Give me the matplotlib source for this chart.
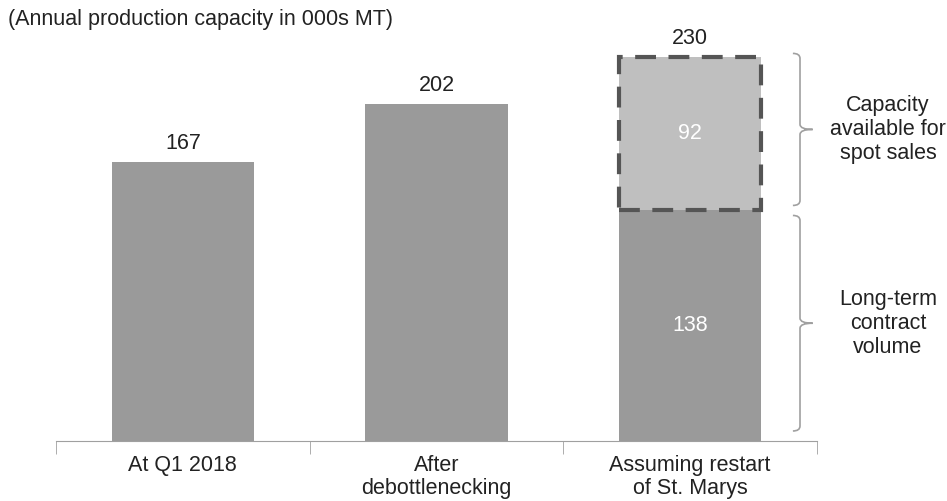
import matplotlib.pyplot as plt
from matplotlib.patches import PathPatch
from matplotlib.path import Path

plt.rcParams['font.family'] = ['Liberation Sans', 'DejaVu Sans']

categories = ["At Q1 2018", "After\ndebottlenecking", "Assuming restart\nof St. Marys"]
base_values = [167, 202, 138]
spot_values = [0, 0, 92]
totals = [167, 202, 230]
bracket_labels = ["Capacity\navailable for\nspot sales", "Long-term\ncontract\nvolume"]

dark = "#9a9a9a"
light = "#bfbfbf"
txt = "#222222"
fs = 15.5

fig = plt.figure(figsize=(9.47, 5.01), dpi=100)
ax = fig.add_axes([56 / 947, 60 / 501, 761 / 947, 421 / 501])

x = list(range(len(categories)))
ax.bar(x, base_values, width=0.56, color=dark, zorder=2)
ax.bar(x[2], spot_values[2], bottom=base_values[2], width=0.56, color=light,
       edgecolor="#555555", linewidth=3, linestyle=(0, (5, 3)), zorder=3)

ax.set_xlim(-0.5, 2.5)
ax.set_ylim(0, 252)

# total labels above bars
for xi, t in zip(x, totals):
    ax.text(xi, t + 11, str(t), ha="center", va="center", fontsize=fs, color=txt)

# inside labels for the stacked bar
ax.text(x[2], base_values[2] / 2, str(base_values[2]), ha="center", va="center",
        fontsize=fs, color="white", zorder=4)
ax.text(x[2], base_values[2] + spot_values[2] / 2, str(spot_values[2]), ha="center",
        va="center", fontsize=fs, color="white", zorder=4)


def brace(y0, y1, xv=2.433, hook=0.028, tip=0.05):
    ym = (y0 + y1) / 2
    r = 3
    verts = [
        (xv - hook, y1), (xv, y1), (xv, y1 - r),
        (xv, ym + r), (xv, ym), (xv + tip, ym),
        (xv, ym), (xv, ym - r),
        (xv, y0 + r), (xv, y0), (xv - hook, y0),
    ]
    codes = [Path.MOVETO, Path.CURVE3, Path.CURVE3,
             Path.LINETO, Path.CURVE3, Path.CURVE3,
             Path.CURVE3, Path.CURVE3,
             Path.LINETO, Path.CURVE3, Path.CURVE3]
    p = PathPatch(Path(verts, codes), fill=False, edgecolor="#a0a0a0", lw=1.2,
                  clip_on=False)
    ax.add_patch(p)
    return ym


ym_top = brace(base_values[2] + 3, totals[2] + 2)
ym_bot = brace(6, base_values[2] - 3)
ax.text(2.78, ym_top, bracket_labels[0], ha="center", va="center", fontsize=fs,
        linespacing=1.2, color=txt, clip_on=False)
ax.text(2.78, ym_bot, bracket_labels[1], ha="center", va="center", fontsize=fs,
        linespacing=1.2, color=txt, clip_on=False)

# axes styling
for s in ["top", "right", "left"]:
    ax.spines[s].set_visible(False)
ax.spines["bottom"].set_color("#a0a0a0")
ax.set_yticks([])
ax.set_xticks(x)
ax.set_xticklabels(categories, fontsize=fs, linespacing=1.15, color=txt)
ax.tick_params(axis="x", which="major", length=0, pad=10)
ax.set_xticks([-0.5, 0.5, 1.5, 2.5], minor=True)
ax.tick_params(axis="x", which="minor", length=9, color="#a0a0a0")

fig.text(8 / 947, 1 - 19 / 501, "(Annual production capacity in 000s MT)",
         ha="left", va="center", fontsize=fs, color=txt)

fig.savefig("out.png", dpi=100)
